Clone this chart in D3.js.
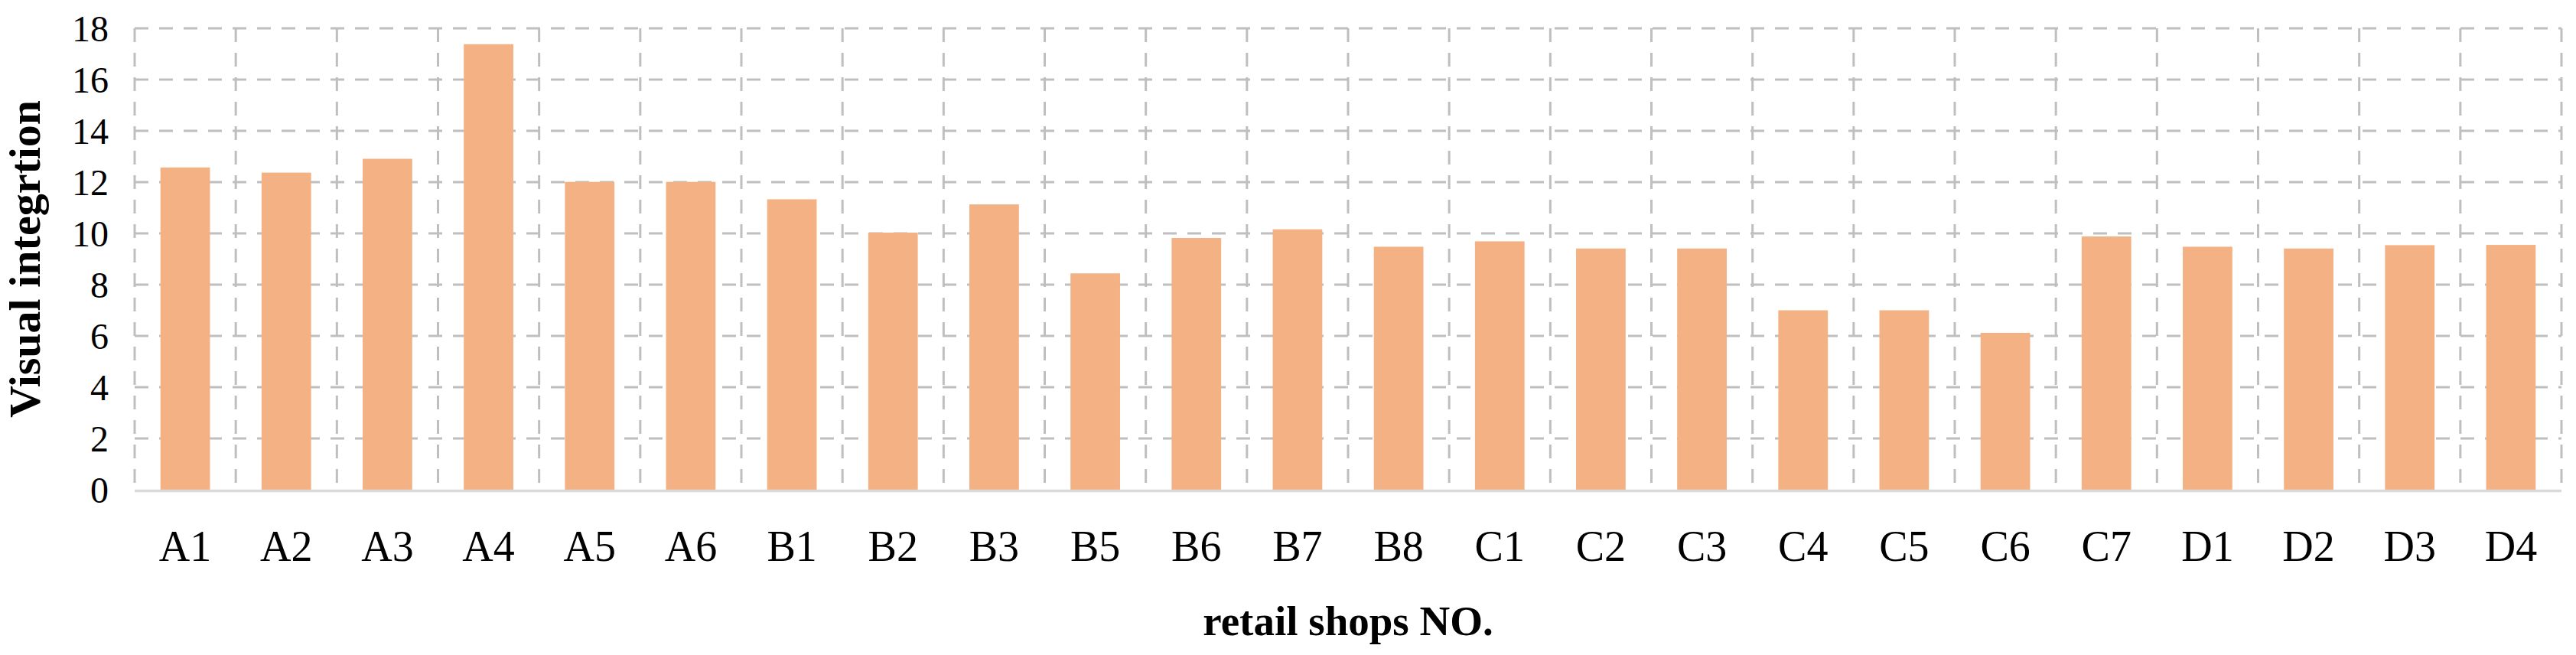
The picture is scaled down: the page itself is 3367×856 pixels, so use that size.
<!DOCTYPE html>
<html>
<head>
<meta charset="utf-8">
<title>Visual integration of retail shops</title>
<script src="https://cdn.jsdelivr.net/npm/d3@7"></script>
<style>
  body { margin: 0; background: #ffffff; }
  svg { display: block; }
  .tick-label { font-family: "Liberation Serif", "Times New Roman", serif; fill: #000; }
  .axis-title { font-family: "Liberation Serif", "Times New Roman", serif; font-weight: bold; fill: #000; }
</style>
</head>
<body>
<svg id="chart"></svg>
<script>
var shops = ["A1", "A2", "A3", "A4", "A5", "A6", "B1", "B2", "B3", "B5", "B6", "B7", "B8",
             "C1", "C2", "C3", "C4", "C5", "C6", "C7", "D1", "D2", "D3", "D4"];
var integration = [12.57, 12.37, 12.91, 17.38, 12.01, 12.01, 11.33, 10.03, 11.13, 8.44, 9.82, 10.16, 9.48,
                   9.69, 9.41, 9.41, 7.00, 7.00, 6.12, 9.88, 9.48, 9.41, 9.54, 9.55];
var yTicks = [0, 2, 4, 6, 8, 10, 12, 14, 16, 18];
var xTitle = "retail shops NO.";
var yTitle = "Visual integrtion";

var width = 3367, height = 856;
var margin = {top: 37, right: 19, bottom: 216, left: 176};
var plotW = width - margin.left - margin.right;
var plotH = height - margin.top - margin.bottom;

var svg = d3.select("#chart").attr("width", width).attr("height", height);
var g = svg.append("g").attr("transform", "translate(" + margin.left + "," + margin.top + ")");

// category cells (for grid) and bars (half of each cell, centred)
var cell = d3.scaleBand().domain(shops).range([0, plotW]).padding(0);
var x = d3.scaleBand().domain(shops).range([0, plotW]).paddingInner(0.51).paddingOuter(0.255);
var y = d3.scaleLinear().domain([0, 18]).range([plotH, 0]);

var gridColor = "#bfbfbf";
var dash = "18,14";

// horizontal dashed grid
g.selectAll(".hgrid")
  .data(yTicks.filter(function(d) { return d > 0; }))
  .enter().append("line")
    .attr("class", "hgrid")
    .attr("x1", 0).attr("x2", plotW)
    .attr("y1", function(d) { return y(d); })
    .attr("y2", function(d) { return y(d); })
    .attr("stroke", gridColor)
    .attr("stroke-width", 3)
    .attr("stroke-dasharray", dash);

// vertical dashed grid on category boundaries
var bounds = shops.map(function(d) { return cell(d); });
bounds.push(plotW);
g.selectAll(".vgrid")
  .data(bounds)
  .enter().append("line")
    .attr("class", "vgrid")
    .attr("x1", function(d) { return d; })
    .attr("x2", function(d) { return d; })
    .attr("y1", y(18)).attr("y2", y(0))
    .attr("stroke", gridColor)
    .attr("stroke-width", 3)
    .attr("stroke-dasharray", dash);

// bars
g.selectAll(".bar")
  .data(integration)
  .enter().append("rect")
    .attr("class", "bar")
    .attr("x", function(d, i) { return x(shops[i]); })
    .attr("width", x.bandwidth())
    .attr("y", function(d) { return y(d); })
    .attr("height", function(d) { return y(0) - y(d); })
    .attr("fill", "#f4b183");

// x axis line
g.append("line")
  .attr("x1", 0).attr("x2", plotW)
  .attr("y1", y(0) + 1.5).attr("y2", y(0) + 1.5)
  .attr("stroke", "#d9d9d9")
  .attr("stroke-width", 3.5);

// y tick labels
var yAxis = d3.axisLeft(y).tickValues(yTicks).tickSize(0).tickPadding(34);
var yg = g.append("g").call(yAxis);
yg.select(".domain").remove();
yg.selectAll("text")
  .attr("class", "tick-label")
  .attr("font-size", 48)
  .attr("dy", "0.34em")
  .attr("fill", "#000");

// x tick labels
var xAxis = d3.axisBottom(cell).tickSize(0);
var xg = g.append("g").attr("transform", "translate(0," + plotH + ")").call(xAxis);
xg.select(".domain").remove();
xg.selectAll("text")
  .attr("class", "tick-label")
  .attr("font-size", 56)
  .attr("y", 93)
  .attr("dy", "0")
  .attr("fill", "#000");

// axis titles
svg.append("text")
  .attr("class", "axis-title")
  .attr("x", margin.left + plotW / 2)
  .attr("y", 830)
  .attr("text-anchor", "middle")
  .attr("font-size", 55)
  .text(xTitle);

svg.append("text")
  .attr("class", "axis-title")
  .attr("transform", "translate(52," + (margin.top + plotH / 2) + ") rotate(-90)")
  .attr("text-anchor", "middle")
  .attr("font-size", 58)
  .text(yTitle);
</script>
</body>
</html>
